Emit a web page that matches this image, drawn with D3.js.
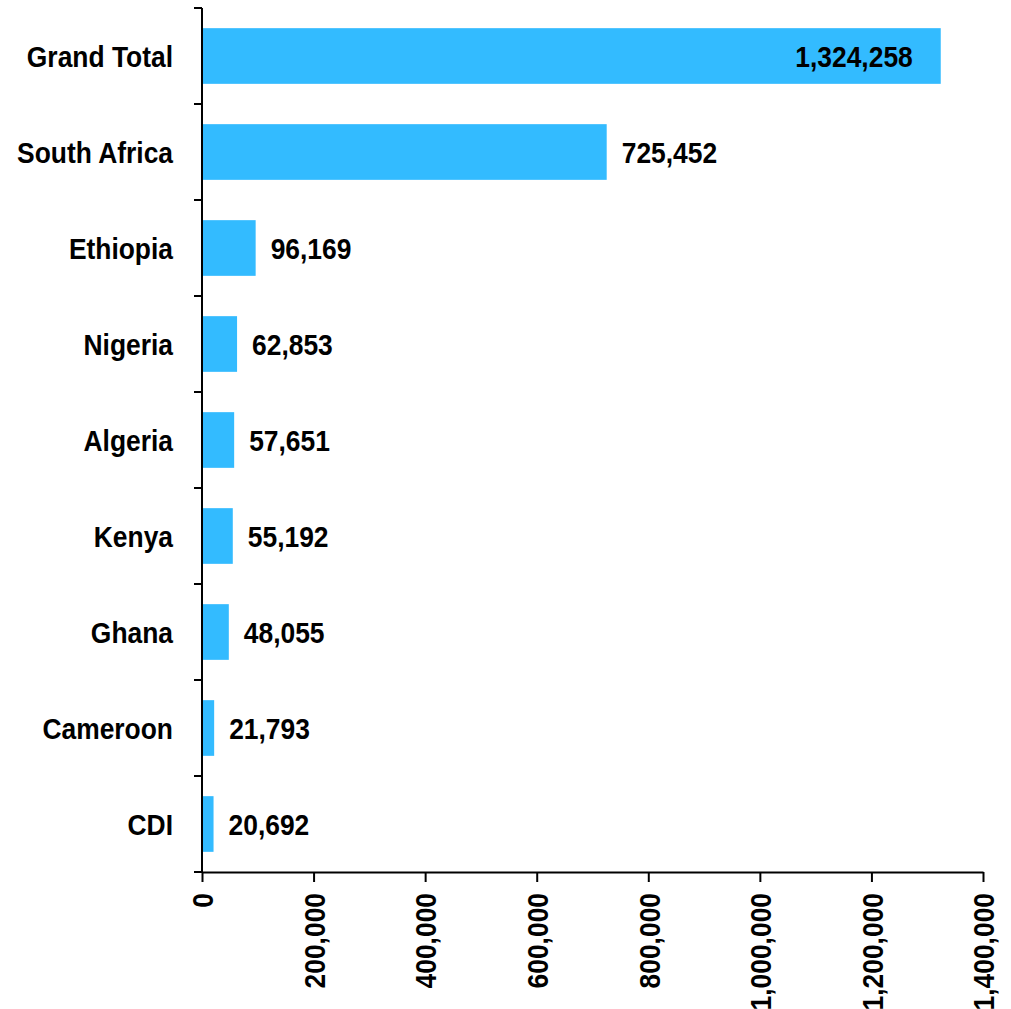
<!DOCTYPE html>
<html>
<head>
<meta charset="utf-8">
<script src="https://cdn.jsdelivr.net/npm/d3@7"></script>
<style>
  html, body { margin: 0; padding: 0; background: #fff; }
  svg text { font-family: "Liberation Sans Narrow", "Arial Narrow", "Liberation Sans", sans-serif; font-weight: bold; fill: #000; }
</style>
</head>
<body>
<svg id="chart" width="1011" height="1009"></svg>
<script>
// Categories, top to bottom
const categories = ["Grand Total", "South Africa", "Ethiopia", "Nigeria", "Algeria", "Kenya", "Ghana", "Cameroon", "CDI"];
// Values per category
const values = [1324258, 725452, 96169, 62853, 57651, 55192, 48055, 21793, 20692];
// X-axis tick values
const xTicks = [0, 200000, 400000, 600000, 800000, 1000000, 1200000, 1400000];

const data = categories.map((c, i) => ({ name: c, value: values[i] }));

const margin = { left: 202, top: 8, right: 28, bottom: 137 };
const W = 1011, H = 1009;
const FS = "30px";     // label font size
const SQ = 0.88;       // horizontal condensing of the bold labels
const svg = d3.select("#chart");

const x = d3.scaleLinear().domain([0, 1400000]).range([margin.left, W - margin.right]);
const y = d3.scaleBand().domain(categories).range([margin.top, H - margin.bottom]).paddingInner(0.42).paddingOuter(0.21);

const fmt = d3.format(",");

// Bars
svg.append("g").selectAll("rect").data(data).join("rect")
  .attr("x", x(0))
  .attr("y", d => y(d.name))
  .attr("width", d => x(d.value) - x(0))
  .attr("height", y.bandwidth())
  .attr("fill", "#33bbff");

// Value labels: inside the longest bar, outside the others
svg.append("g").selectAll("text").data(data).join("text")
  .attr("transform", (d, i) =>
    `translate(${i === 0 ? x(d.value) - 28 : x(d.value) + 15},${y(d.name) + y.bandwidth() / 2}) scale(${SQ},1)`)
  .attr("dy", "0.36em")
  .attr("text-anchor", (d, i) => i === 0 ? "end" : "start")
  .style("font-size", FS)
  .text(d => fmt(d.value));

// Y axis: line with ticks at band boundaries
const yAxis = svg.append("g");
const bounds = d3.range(categories.length + 1).map(i => margin.top + i * y.step());
yAxis.append("line")
  .attr("x1", x(0)).attr("x2", x(0))
  .attr("y1", margin.top).attr("y2", H - margin.bottom)
  .attr("stroke", "#000").attr("stroke-width", 2);
yAxis.selectAll("line.tick").data(bounds).join("line")
  .attr("class", "tick")
  .attr("x1", x(0) - 8).attr("x2", x(0))
  .attr("y1", d => d).attr("y2", d => d)
  .attr("stroke", "#000").attr("stroke-width", 2);
yAxis.selectAll("text").data(categories).join("text")
  .attr("transform", d => `translate(${x(0) - 29},${y(d) + y.bandwidth() / 2}) scale(${SQ},1)`)
  .attr("dy", "0.36em")
  .attr("text-anchor", "end")
  .style("font-size", FS)
  .text(d => d);

// X axis
const xAxis = svg.append("g")
  .attr("transform", `translate(0,${H - margin.bottom})`)
  .call(d3.axisBottom(x).tickValues(xTicks).tickFormat(fmt).tickSize(10).tickSizeOuter(0));
xAxis.select(".domain").attr("stroke", "#000").attr("stroke-width", 2);
xAxis.selectAll(".tick line").attr("stroke", "#000").attr("stroke-width", 2);
xAxis.selectAll(".tick text")
  .style("font-size", FS)
  .attr("text-anchor", "end")
  .attr("x", 0)
  .attr("y", 0)
  .attr("dy", "0.36em")
  .attr("transform", `rotate(-90) translate(-21,0) scale(${SQ},1)`);
</script>
</body>
</html>
